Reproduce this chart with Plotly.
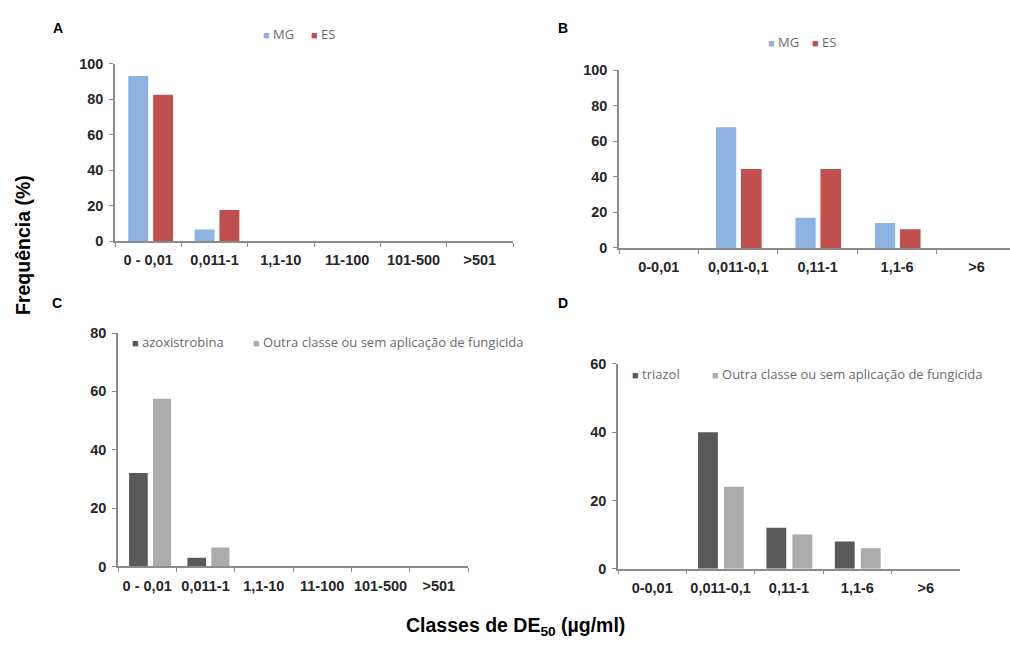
import plotly.graph_objects as go

# ---------------- data ----------------
cats_ac = ["0 - 0,01", "0,011-1", "1,1-10", "11-100", "101-500", ">501"]
cats_bd = ["0-0,01", "0,011-0,1", "0,11-1", "1,1-6", ">6"]

names_ab = ["MG", "ES"]
names_c = ["azoxistrobina", "Outra classe ou sem aplicação de fungicida"]
names_d = ["triazol", "Outra classe ou sem aplicação de fungicida"]

a_mg = [93, 6.5, 0, 0, 0, 0]
a_es = [82.5, 17.5, 0, 0, 0, 0]

b_mg = [0, 68, 17, 14, 0]
b_es = [0, 44.5, 44.5, 10.5, 0]

c_azox = [32, 3, 0, 0, 0, 0]
c_outra = [57.5, 6.5, 0, 0, 0, 0]

d_triazol = [0, 40, 12, 8, 0]
d_outra = [0, 24, 10, 6, 0]

W, H = 1010, 645
BLUE = "#8DB3E2"
RED = "#C0504D"
DARK = "#595959"
LIGHT = "#ABABAB"
AXC = "#8C8C8C"
TICKFONT = dict(family="Liberation Sans, Arial, sans-serif", size=14.5, color="#262626", weight="bold")
LEGFONT = dict(family="Open Sans, sans-serif", size=13, color="#6b6b6b")

def px_x(p):
    return p / W

def px_y(p):
    return 1 - p / H

fig = go.Figure()

def bars(x, y, name, color, xa, ya, offset, width):
    fig.add_trace(go.Bar(x=x, y=y, name=name, marker=dict(color=color, line=dict(width=0)),
                         xaxis=xa, yaxis=ya, offset=offset, width=width,
                         showlegend=False, hoverinfo="x+y+name"))

# Panel A
bars(cats_ac, a_mg, names_ab[0], BLUE, "x", "y", -0.30, 0.30)
bars(cats_ac, a_es, names_ab[1], RED, "x", "y", 0.075, 0.30)
# Panel B
bars(cats_bd, b_mg, names_ab[0], BLUE, "x2", "y2", -0.28, 0.255)
bars(cats_bd, b_es, names_ab[1], RED, "x2", "y2", 0.035, 0.26)
# Panel C
bars(cats_ac, c_azox, names_c[0], DARK, "x3", "y3", -0.31, 0.32)
bars(cats_ac, c_outra, names_c[1], LIGHT, "x3", "y3", 0.10, 0.31)
# Panel D
bars(cats_bd, d_triazol, names_d[0], DARK, "x4", "y4", -0.33, 0.29)
bars(cats_bd, d_outra, names_d[1], LIGHT, "x4", "y4", 0.05, 0.29)

def xax(dom, n, rng=None):
    return dict(domain=dom, type="category", showline=True, linecolor=AXC, linewidth=1.5,
                ticks="outside", tickson="boundaries", ticklen=4, tickcolor=AXC, tickwidth=1.2,
                showgrid=False, zeroline=False, tickfont=TICKFONT, ticklabelstandoff=5,
                tickangle=0, range=rng if rng else [-0.5, n - 0.5], fixedrange=True)

def yax(dom, top, dtick):
    return dict(domain=dom, range=[0, top], dtick=dtick, showline=True, linecolor=AXC,
                linewidth=1.5, ticks="outside", ticklen=4, tickcolor=AXC, tickwidth=1.2,
                showgrid=False, zeroline=False, tickfont=TICKFONT, ticklabelstandoff=3,
                fixedrange=True)

fig.update_layout(
    width=W, height=H,
    margin=dict(l=0, r=0, t=0, b=0),
    paper_bgcolor="white", plot_bgcolor="white",
    barmode="overlay", showlegend=False,
    xaxis=dict(**xax([px_x(115), px_x(513)], 6), anchor="y"),
    yaxis=dict(**yax([px_y(239), px_y(57)], 100, 20), anchor="x"),
    xaxis2=dict(**xax([px_x(619), 1.0], 5, [-0.5, 4.42]), anchor="y2"),
    yaxis2=dict(**yax([px_y(246), px_y(64)], 100, 20), anchor="x2"),
    xaxis3=dict(**xax([px_x(118), px_x(468)], 6), anchor="y3"),
    yaxis3=dict(**yax([px_y(572.7), px_y(333.3)], 80, 20), anchor="x3"),
    xaxis4=dict(**xax([px_x(618), px_x(960)], 5), anchor="y4"),
    yaxis4=dict(**yax([px_y(575), px_y(365)], 60, 20), anchor="x4"),
)

# legend entries (square glyph + name)
def legend_entry(name, color, x, y):
    fig.add_annotation(text=f"<span style='color:{color};font-size:11px'>■</span> {name}",
                       x=px_x(x), y=px_y(y), xref="paper", yref="paper", showarrow=False,
                       font=LEGFONT, xanchor="left", yanchor="middle")

legend_entry(names_ab[0], BLUE, 261, 27)
legend_entry(names_ab[1], RED, 309, 27)
legend_entry(names_ab[0], BLUE, 766, 35)
legend_entry(names_ab[1], RED, 810, 35)
legend_entry(names_c[0], DARK, 130, 343)
legend_entry(names_c[1], LIGHT, 251, 343)
legend_entry(names_d[0], DARK, 630, 375)
legend_entry(names_d[1], LIGHT, 710, 375)

ann_font = dict(family="Liberation Sans, Arial, sans-serif", size=14, color="black", weight="bold")
for letter, x, y in [("A", 58, 21), ("B", 563, 20), ("C", 57, 302), ("D", 563, 302)]:
    fig.add_annotation(text=letter, x=px_x(x), y=px_y(y), xref="paper", yref="paper",
                       showarrow=False, font=ann_font, xanchor="center", yanchor="middle")

title_font = dict(family="Liberation Sans, Arial, sans-serif", size=19.5, color="black", weight="bold")
fig.add_annotation(text="Frequência (%)", textangle=-90, x=px_x(23), y=px_y(243),
                   xref="paper", yref="paper", showarrow=False, font=title_font,
                   xanchor="center", yanchor="middle")
fig.add_annotation(text="Classes de DE<sub>50</sub> (µg/ml)", x=px_x(515), y=px_y(634),
                   xref="paper", yref="paper", showarrow=False, font=title_font,
                   xanchor="center", yanchor="middle")

fig.write_html("out.html", config={"displayModeBar": False},
               post_script="document.body.style.margin='0';")
